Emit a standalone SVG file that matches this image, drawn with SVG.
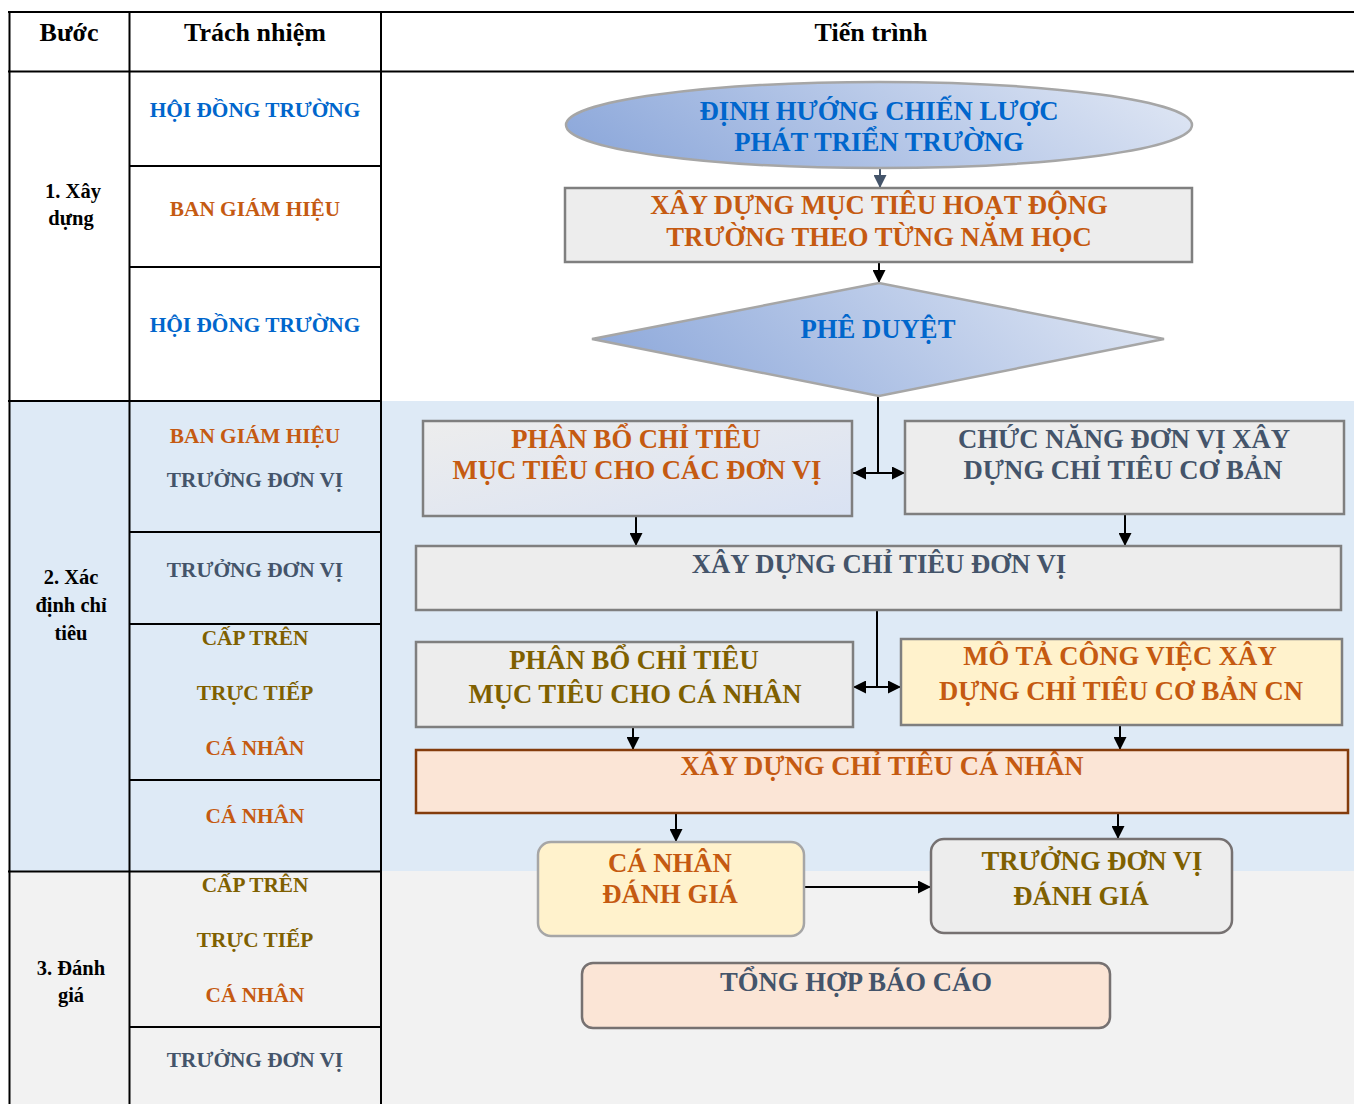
<svg xmlns="http://www.w3.org/2000/svg" width="1354" height="1104" viewBox="0 0 1354 1104">
<style>
text{font-family:"Liberation Serif","Times New Roman",serif;font-weight:bold;text-anchor:middle}
.hd{font-size:26px;fill:#000}
.st{font-size:20.5px;fill:#000}
.lc{font-size:21.3px}
.nt{font-size:26.7px}
.blue{fill:#0066CC}
.org{fill:#C55A11}
.sl{fill:#44546A}
.ol{fill:#7F6000}
.tl{stroke:#000;stroke-width:2;fill:none}
.cn{stroke:#000;stroke-width:2;fill:none}
.box{stroke:#7F7F7F;stroke-width:2.5}
</style>
<defs>
<linearGradient id="gBlue" x1="0" y1="0.6" x2="1" y2="0.4">
<stop offset="0" stop-color="#8EA9DB"/>
<stop offset="1" stop-color="#DCE4F3"/>
</linearGradient>
<linearGradient id="gGB" x1="0" y1="0" x2="1" y2="1">
<stop offset="0" stop-color="#EDEDED"/>
<stop offset="1" stop-color="#D9E2F3"/>
</linearGradient>
<marker id="ah" viewBox="0 0 10 10" refX="10" refY="5" markerWidth="13" markerHeight="13" markerUnits="userSpaceOnUse" orient="auto-start-reverse">
<path d="M0,0 L10,5 L0,10 z" fill="#000"/>
</marker>
<marker id="ahs" viewBox="0 0 10 10" refX="10" refY="5" markerWidth="13" markerHeight="13" markerUnits="userSpaceOnUse" orient="auto">
<path d="M0,0 L10,5 L0,10 z" fill="#44546A"/>
</marker>
</defs>

<g id="table">
<rect x="9" y="401" width="1345" height="470" fill="#DEEAF6"/>
<rect x="9" y="871" width="1345" height="233" fill="#F2F2F2"/>
<line class="tl" x1="8" y1="12" x2="1354" y2="12"/>
<line class="tl" x1="8" y1="71.5" x2="1354" y2="71.5"/>
<line class="tl" x1="9.5" y1="11" x2="9.5" y2="1104"/>
<line class="tl" x1="129.5" y1="11" x2="129.5" y2="1104"/>
<line class="tl" x1="381" y1="11" x2="381" y2="1104"/>
<line class="tl" x1="8" y1="401" x2="382" y2="401"/>
<line class="tl" x1="8" y1="871.5" x2="382" y2="871.5"/>
<line class="tl" x1="129" y1="166" x2="382" y2="166"/>
<line class="tl" x1="129" y1="267" x2="382" y2="267"/>
<line class="tl" x1="129" y1="532" x2="382" y2="532"/>
<line class="tl" x1="129" y1="624" x2="382" y2="624"/>
<line class="tl" x1="129" y1="780" x2="382" y2="780"/>
<line class="tl" x1="129" y1="1027" x2="382" y2="1027"/>
<text class="hd" x="69" y="41">Bước</text>
<text class="hd" x="255" y="41">Trách nhiệm</text>
<text class="hd" x="871" y="41">Tiến trình</text>
<text class="st" x="73" y="198">1. Xây</text>
<text class="st" x="71" y="225">dựng</text>
<text class="st" x="71" y="584">2. Xác</text>
<text class="st" x="71" y="612">định chỉ</text>
<text class="st" x="71" y="640">tiêu</text>
<text class="st" x="71" y="975">3. Đánh</text>
<text class="st" x="71" y="1002">giá</text>
<text class="lc blue" x="255" y="117">HỘI ĐỒNG TRƯỜNG</text>
<text class="lc org" x="255" y="216">BAN GIÁM HIỆU</text>
<text class="lc blue" x="255" y="332">HỘI ĐỒNG TRƯỜNG</text>
<text class="lc org" x="255" y="443">BAN GIÁM HIỆU</text>
<text class="lc sl" x="255" y="487">TRƯỞNG ĐƠN VỊ</text>
<text class="lc sl" x="255" y="577">TRƯỞNG ĐƠN VỊ</text>
<text class="lc ol" x="255" y="645">CẤP TRÊN</text>
<text class="lc ol" x="255" y="700">TRỰC TIẾP</text>
<text class="lc org" x="255" y="755">CÁ NHÂN</text>
<text class="lc org" x="255" y="823">CÁ NHÂN</text>
<text class="lc ol" x="255" y="892">CẤP TRÊN</text>
<text class="lc ol" x="255" y="947">TRỰC TIẾP</text>
<text class="lc org" x="255" y="1002">CÁ NHÂN</text>
<text class="lc sl" x="255" y="1067">TRƯỞNG ĐƠN VỊ</text>
</g>

<g id="connectors">
<line x1="880" y1="168" x2="880" y2="188" stroke="#44546A" stroke-width="2" marker-end="url(#ahs)"/>
<line class="cn" x1="879" y1="262" x2="879" y2="283" marker-end="url(#ah)"/>
<line class="cn" x1="878" y1="396" x2="878" y2="473"/>
<line class="cn" x1="853" y1="473" x2="905" y2="473" marker-start="url(#ah)" marker-end="url(#ah)"/>
<line class="cn" x1="636" y1="516" x2="636" y2="546" marker-end="url(#ah)"/>
<line class="cn" x1="1125" y1="514" x2="1125" y2="546" marker-end="url(#ah)"/>
<line class="cn" x1="877" y1="610" x2="877" y2="687"/>
<line class="cn" x1="853" y1="687" x2="901" y2="687" marker-start="url(#ah)" marker-end="url(#ah)"/>
<line class="cn" x1="633" y1="727" x2="633" y2="750" marker-end="url(#ah)"/>
<line class="cn" x1="1120" y1="725" x2="1120" y2="750" marker-end="url(#ah)"/>
<line class="cn" x1="676" y1="813" x2="676" y2="842" marker-end="url(#ah)"/>
<line class="cn" x1="1118" y1="813" x2="1118" y2="839" marker-end="url(#ah)"/>
<line class="cn" x1="804" y1="887" x2="931" y2="887" stroke-width="2.5" marker-end="url(#ah)"/>
</g>

<g id="n-dinhhuong">
<ellipse cx="879" cy="125" rx="313" ry="43" fill="url(#gBlue)" stroke="#A6A6A6" stroke-width="2.5"/>
<text class="nt blue" x="879" y="120">ĐỊNH HƯỚNG CHIẾN LƯỢC</text>
<text class="nt blue" x="879" y="151">PHÁT TRIỂN TRƯỜNG</text>
</g>
<g id="n-xaydungmuctieu">
<rect class="box" x="565" y="188" width="627" height="74" fill="#EDEDED"/>
<text class="nt org" x="879" y="214">XÂY DỰNG MỤC TIÊU HOẠT ĐỘNG</text>
<text class="nt org" x="879" y="246">TRƯỜNG THEO TỪNG NĂM HỌC</text>
</g>
<g id="n-pheduyet">
<polygon points="592,339 879,283 1164,339 879,396" fill="url(#gBlue)" stroke="#A6A6A6" stroke-width="2.5"/>
<text class="nt blue" x="878" y="338">PHÊ DUYỆT</text>
</g>
<g id="n-phanbodonvi">
<rect class="box" x="423" y="421" width="429" height="95" fill="url(#gGB)"/>
<text class="nt org" x="636" y="448">PHÂN BỔ CHỈ TIÊU</text>
<text class="nt org" x="637" y="479">MỤC TIÊU CHO CÁC ĐƠN VỊ</text>
</g>
<g id="n-chucnang">
<rect class="box" x="905" y="421" width="439" height="93" fill="#EDEDED"/>
<text class="nt sl" x="1124" y="448">CHỨC NĂNG ĐƠN VỊ XÂY</text>
<text class="nt sl" x="1123" y="479">DỰNG CHỈ TIÊU CƠ BẢN</text>
</g>
<g id="n-xaydungdonvi">
<rect class="box" x="416" y="546" width="925" height="64" fill="#EDEDED"/>
<text class="nt sl" x="879" y="573">XÂY DỰNG CHỈ TIÊU ĐƠN VỊ</text>
</g>
<g id="n-phanbocanhan">
<rect class="box" x="416" y="642" width="437" height="85" fill="#EDEDED"/>
<text class="nt ol" x="634" y="669">PHÂN BỔ CHỈ TIÊU</text>
<text class="nt ol" x="635" y="703">MỤC TIÊU CHO CÁ NHÂN</text>
</g>
<g id="n-mota">
<rect class="box" x="901" y="639" width="441" height="86" fill="#FFF2CC"/>
<text class="nt org" x="1120" y="665">MÔ TẢ CÔNG VIỆC XÂY</text>
<text class="nt org" x="1121" y="700">DỰNG CHỈ TIÊU CƠ BẢN CN</text>
</g>
<g id="n-xaydungcanhan">
<rect x="416" y="750" width="932" height="63" fill="#FBE5D6" stroke="#843C0C" stroke-width="2.5"/>
<text class="nt org" x="882" y="775">XÂY DỰNG CHỈ TIÊU CÁ NHÂN</text>
</g>
<g id="n-canhandanhgia">
<rect x="538" y="842" width="266" height="94" rx="13" fill="#FFF2CC" stroke="#A6A6A6" stroke-width="2.5"/>
<text class="nt org" x="670" y="872">CÁ NHÂN</text>
<text class="nt org" x="670" y="903">ĐÁNH GIÁ</text>
</g>
<g id="n-truongdonvidanhgia">
<rect x="931" y="839" width="301" height="94" rx="13" fill="#EDEDED" stroke="#767171" stroke-width="2.5"/>
<text class="nt ol" x="1092" y="870">TRƯỞNG ĐƠN VỊ</text>
<text class="nt ol" x="1081" y="905">ĐÁNH GIÁ</text>
</g>
<g id="n-tonghop">
<rect x="582" y="963" width="528" height="65" rx="11" fill="#FBE5D6" stroke="#767171" stroke-width="2.5"/>
<text class="nt sl" x="856" y="991">TỔNG HỢP BÁO CÁO</text>
</g>
</svg>
